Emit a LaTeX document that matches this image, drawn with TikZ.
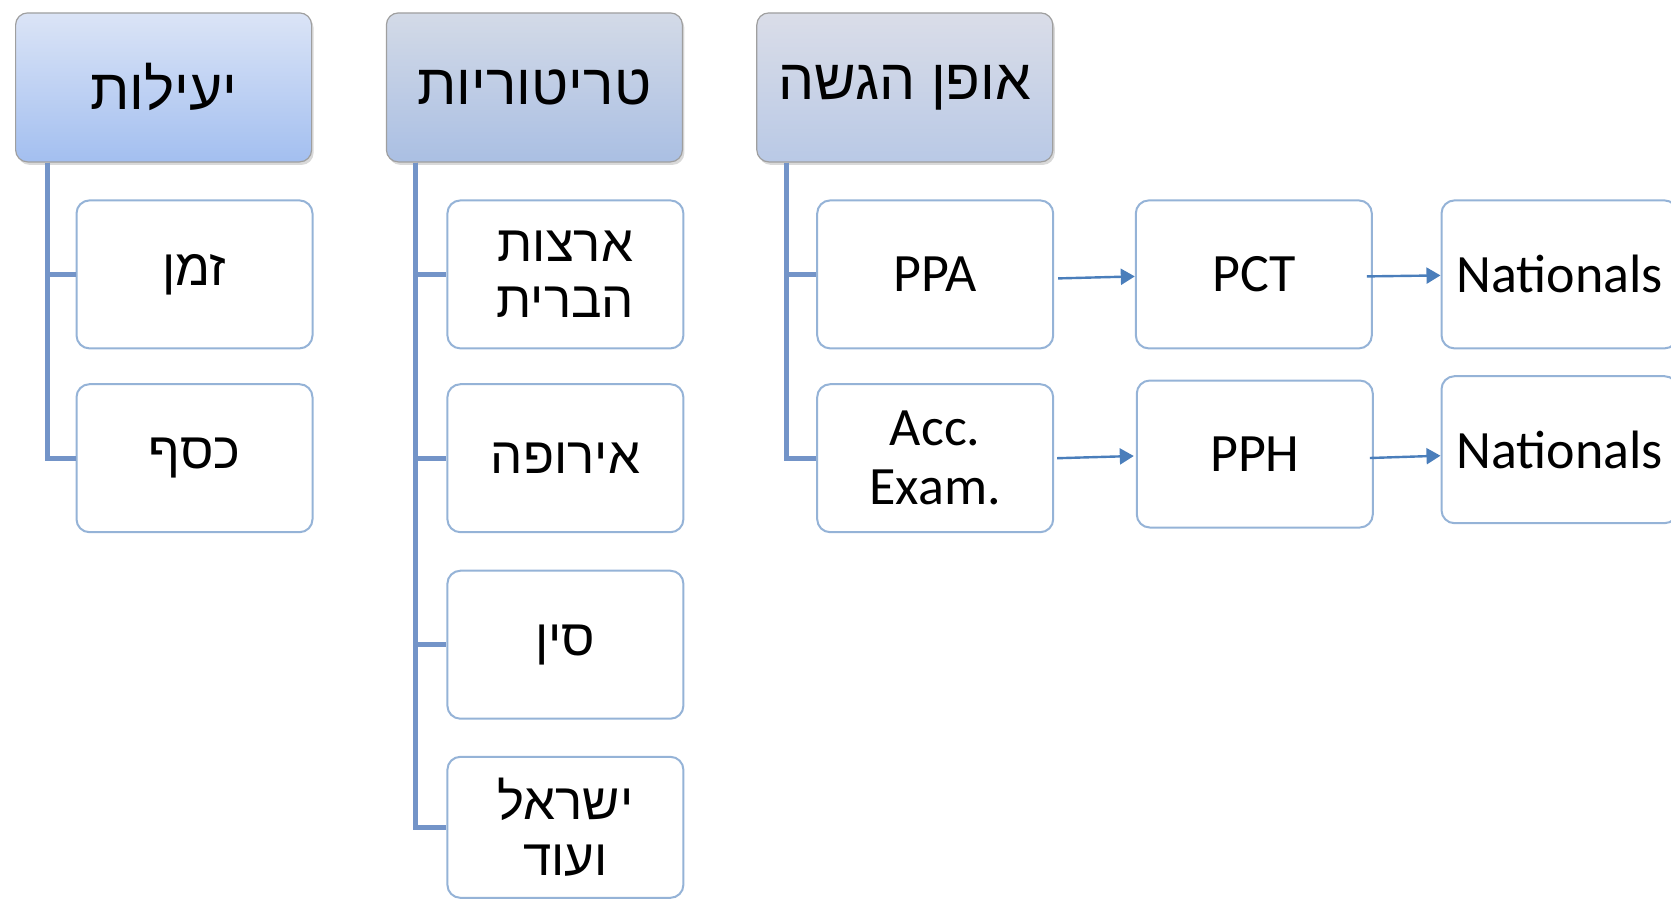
\documentclass[tikz,border=0pt]{standalone}
\usepackage{fontspec}
\setmainfont{Carlito}
\newfontfamily\hebfont[Script=Hebrew]{Liberation Sans}
\TeXXeTstate=1
\usetikzlibrary{positioning,shadows,arrows.meta}

\newcommand{\heb}[1]{{\hebfont\beginR #1\endR}}

\definecolor{treeline}{HTML}{7394C8}
\definecolor{boxline}{HTML}{95B3D7}
\definecolor{arrowblue}{HTML}{4A7EBB}

\tikzset{
  head/.style={rounded corners=6pt, draw=gray!75, line width=0.6pt,
    minimum width=148pt, minimum height=74.5pt,
    drop shadow={opacity=0.3, shadow xshift=1pt, shadow yshift=-1.5pt},
    font=\fontsize{28.5}{30}\selectfont},
  item/.style={rounded corners=6.5pt, draw=boxline, line width=1pt, fill=white,
    minimum width=118pt, minimum height=74pt, align=center,
    font=\fontsize{27}{29.5}\selectfont},
  hebitem/.style={item, font=\fontsize{25.5}{28}\selectfont},
  tree/.style={draw=treeline, line width=2.5pt},
  flow/.style={draw=arrowblue, line width=1.2pt, -{Triangle[length=7pt,width=8pt]}},
}

\begin{document}
\begin{tikzpicture}[x=0.5pt, y=-0.5pt]
  \useasboundingbox (0,0) rectangle (1671,901);
  \clip (0,0) rectangle (1671,901);

  % headers
  \node[head, top color={rgb,255:red,219;green,228;blue,246}, bottom color={rgb,255:red,163;green,191;blue,240}] (eff) at (163.6,87.4) {\heb{יעילות}};
  \node[head, top color={rgb,255:red,211;green,218;blue,231}, bottom color={rgb,255:red,170;green,191;blue,227}] (terr) at (534.4,87.4) {\heb{טריטוריות}};
  \node[head, top color={rgb,255:red,218;green,221;blue,232}, bottom color={rgb,255:red,185;green,201;blue,230}] (mode) at (904.8,87.4) {\heb{אופן הגשה}};

  % first column
  \node[hebitem] (time) at (194.5,274.4) {\heb{זמן}};
  \node[hebitem] (money) at (194.5,458.2) {\heb{כסף}};

  % second column
  \node[hebitem] (usa) at (565.4,274.4) {\heb{ארצות}\\\heb{הברית}};
  \node[hebitem] (eur) at (565.4,458.2) {\heb{אירופה}};
  \node[hebitem] (chn) at (565.4,644.7) {\heb{סין}};
  \node[hebitem, minimum height=70.5pt] (isr) at (565.4,827.3) {\heb{ישראל}\\\heb{ועוד}};

  % third column
  \node[item] (ppa) at (935.2,274.4) {PPA};
  \node[item] (acc) at (935.2,458.2) {Acc.\\Exam.};
  \node[item] (pct) at (1253.8,274.4) {PCT};
  \node[item, minimum height=73.5pt] (pph) at (1254.8,454) {PPH};
  \node[item] (nat1) at (1559.5,274.4) {Nationals};
  \node[item, minimum height=73.5pt] (nat2) at (1559.5,449.7) {Nationals};

  % tree lines
  \foreach \c in {time,money}
    \draw[tree] ([xshift=16pt]eff.south west) |- (\c.west);
  \foreach \c in {usa,eur,chn,isr}
    \draw[tree] ([xshift=15pt]terr.south west) |- (\c.west);
  \foreach \c in {ppa,acc}
    \draw[tree] ([xshift=15pt]mode.south west) |- (\c.west);

  % arrows
  \draw[flow] ([xshift=2pt,yshift=-2pt]ppa.east) -- ([yshift=-1pt]pct.west);
  \draw[flow] ([xshift=-3pt,yshift=-1pt]pct.east) -- ([yshift=-0.5pt]nat1.west);
  \draw[flow] ([xshift=1.5pt]acc.east) -- ([xshift=-1pt,yshift=-1pt]pph.west);
  \draw[flow] ([xshift=-2pt,yshift=-2pt]pph.east) -- ([yshift=-3pt]nat2.west);
\end{tikzpicture}
\end{document}
